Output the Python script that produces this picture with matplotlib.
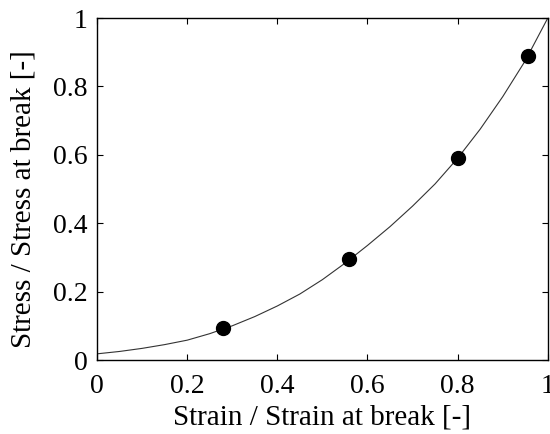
import matplotlib
matplotlib.use("Agg")
import matplotlib.pyplot as plt

# measured points (normalised)
strain_pts = [0.28, 0.56, 0.80, 0.955]
stress_pts = [0.095, 0.295, 0.59, 0.89]

# fitted curve
curve_x = [0.0, 0.05, 0.1, 0.15, 0.2, 0.25, 0.3, 0.35, 0.4, 0.45, 0.5,
           0.55, 0.6, 0.65, 0.7, 0.75, 0.8, 0.85, 0.9, 0.95, 1.0]
curve_y = [0.018, 0.025, 0.034, 0.045, 0.058, 0.077, 0.100, 0.127, 0.158, 0.193, 0.235,
           0.283, 0.335, 0.39, 0.45, 0.515, 0.59, 0.675, 0.77, 0.875, 1.0]

plt.rcParams['font.family'] = 'serif'
plt.rcParams['font.serif'] = ['Liberation Serif', 'Times New Roman', 'DejaVu Serif']

fig = plt.figure(figsize=(5.5, 4.34), dpi=100)
ax = fig.add_axes([0.1764, 0.1705, 0.8196, 0.788])

ax.plot(curve_x, curve_y, color='#333333', linewidth=0.8)
ax.plot(strain_pts, stress_pts, 'o', color='black', markersize=10)

ax.set_xlim(0, 1)
ax.set_ylim(0, 1)
ax.set_xticks([0, 0.2, 0.4, 0.6, 0.8, 1])
ax.set_xticklabels(['0', '0.2', '0.4', '0.6', '0.8', '1'])
ax.set_yticks([0, 0.2, 0.4, 0.6, 0.8, 1])
ax.set_yticklabels(['0', '0.2', '0.4', '0.6', '0.8', '1'])
ax.tick_params(direction='in', top=True, right=True, labelsize=20, length=4, width=0.8)
ax.tick_params(axis='x', pad=10)
ax.tick_params(axis='y', pad=7)
for s in ax.spines.values():
    s.set_linewidth(1.0)

ax.set_xlabel('Strain / Strain at break [-]', fontsize=21, labelpad=4)
ax.set_ylabel('Stress / Stress at break [-]', fontsize=21)
ax.yaxis.set_label_coords(-0.135, 0.47)

fig.savefig("out.png", dpi=100)
